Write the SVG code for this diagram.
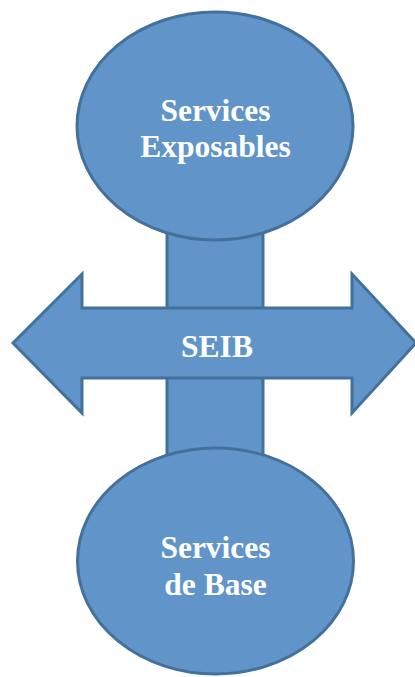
<svg xmlns="http://www.w3.org/2000/svg" width="415" height="677" viewBox="0 0 415 677">
<style>
.shape{fill:#6194C8;stroke:#44709C;stroke-width:3;stroke-linejoin:miter}
.lbl{font-family:"Liberation Serif","Times New Roman",serif;font-weight:bold;font-size:31.5px;fill:#ffffff;text-anchor:middle}
</style>
<rect width="415" height="677" fill="#ffffff"/>
<g id="connectors">
<rect class="shape" x="167" y="230" width="96" height="230"/>
</g>
<g id="services-exposables">
<ellipse class="shape" cx="215" cy="126" rx="138" ry="114"/>
<text class="lbl" x="215.5" y="121">Services</text>
<text class="lbl" x="215.5" y="157">Exposables</text>
</g>
<g id="services-de-base">
<ellipse class="shape" cx="215.5" cy="561" rx="138" ry="113"/>
<text class="lbl" x="215.5" y="558">Services</text>
<text class="lbl" x="215.5" y="595">de Base</text>
</g>
<g id="seib">
<path class="shape" d="M13,343 L82,274 L82,308 L352,308 L352,274 L416,343 L352,413 L352,378 L82,378 L82,413 Z"/>
<text class="lbl" x="217" y="357">SEIB</text>
</g>
</svg>
